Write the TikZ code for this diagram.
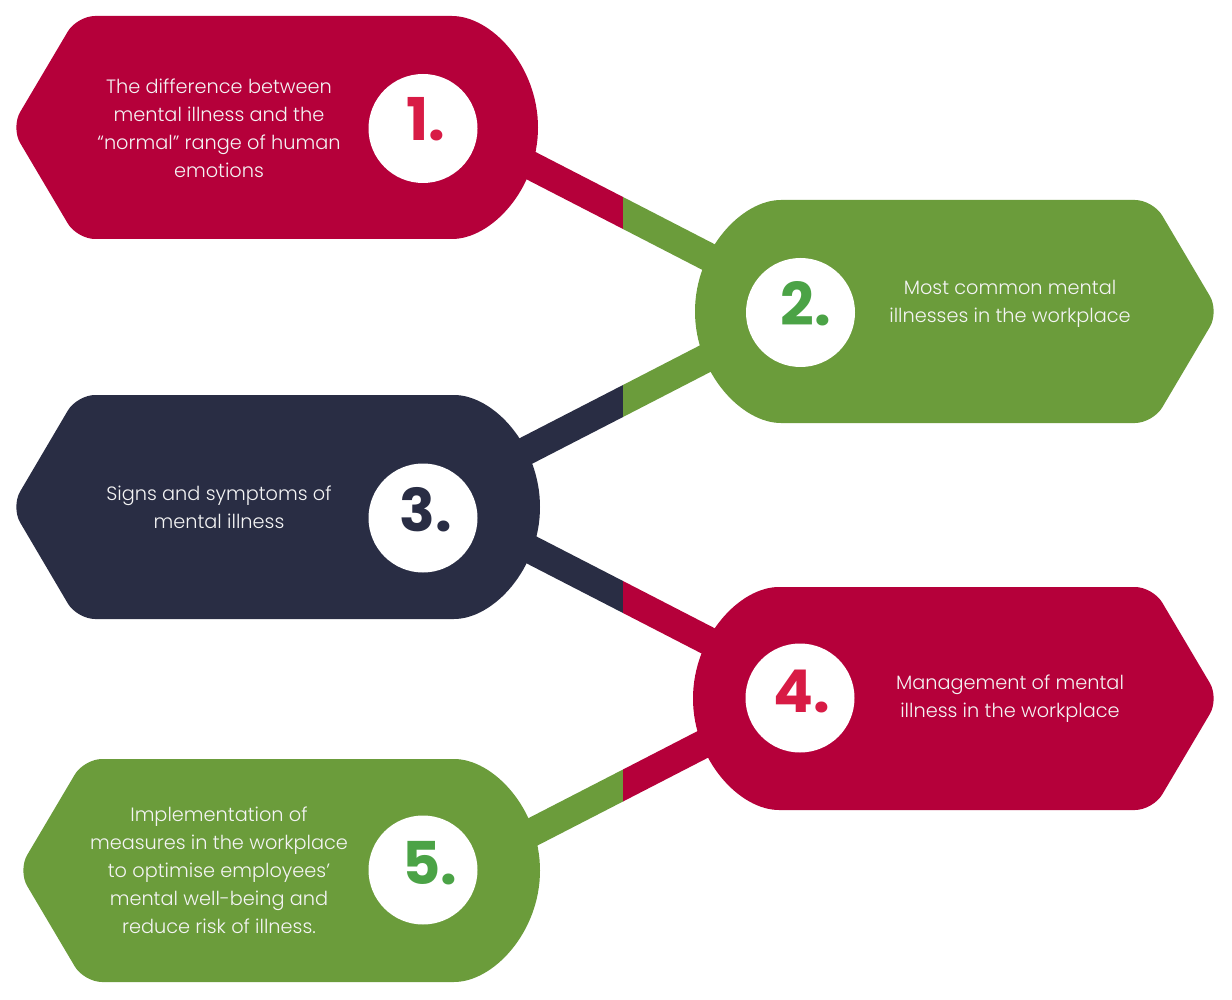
\documentclass[tikz,border=0pt]{standalone}
\usepackage{fontspec}
\setmainfont{Poppins}[UprightFont={* Light}, BoldFont={* Bold}]
\definecolor{cred}{HTML}{B5003A}
\definecolor{cgreen}{HTML}{6B9C3B}
\definecolor{cnavy}{HTML}{292D44}
\definecolor{nred}{HTML}{D81B45}
\definecolor{ngreen}{HTML}{4BA346}
\definecolor{ntext}{HTML}{F4F4F4}
\begin{document}
\begin{tikzpicture}[x=1pt,y=-1pt,
  lbl/.style={text=ntext, align=center, font=\fontsize{19.3}{28}\selectfont, inner sep=0pt},
  num/.style={font=\fontsize{59}{59}\selectfont\bfseries, anchor=base, inner sep=0pt},
  hole/.style={circle, fill=white, minimum size=109pt, inner sep=0pt},
  tagshape/.style={rounded corners=18pt}
]
\useasboundingbox (0,0) rectangle (1232,1000);
\fill[white] (0,0) rectangle (1232,1000);

% connectors (bands)
\fill[cred]   (480,123.4) -- (623,197) -- (623,229) -- (480,155.4) -- cycle;
\fill[cgreen] (623,197) -- (760,267.6) -- (760,299.6) -- (623,229) -- cycle;
\fill[cnavy]  (480,458.6) -- (623,385) -- (623,417) -- (480,490.6) -- cycle;
\fill[cgreen] (623,385) -- (760,314.4) -- (760,346.4) -- (623,417) -- cycle;
\fill[cnavy]  (480,507.4) -- (623,581) -- (623,613) -- (480,539.4) -- cycle;
\fill[cred]   (623,581) -- (760,651.6) -- (760,683.6) -- (623,613) -- cycle;
\fill[cgreen] (480,843.1) -- (623,769.5) -- (623,801.5) -- (480,875.1) -- cycle;
\fill[cred]   (623,769.5) -- (760,698.9) -- (760,730.9) -- (623,801.5) -- cycle;

% shapes
\fill[cred, tagshape] (434,16) arc[start angle=90, end angle=-90, x radius=104pt, y radius=111.5pt]
  -- (77,239) -- (11,127.5) -- (77,16) -- cycle;
\fill[cgreen, tagshape] (799,423) arc[start angle=270, end angle=90, x radius=104pt, y radius=111.5pt]
  -- (1153,200) -- (1219,311.5) -- (1153,423) -- cycle;
\fill[cnavy, tagshape] (436,395) arc[start angle=90, end angle=-90, x radius=104pt, y radius=112pt]
  -- (77,619) -- (11,507) -- (77,395) -- cycle;
\fill[cred, tagshape] (797,810) arc[start angle=270, end angle=90, x radius=104pt, y radius=111.5pt]
  -- (1153,587) -- (1219,698.5) -- (1153,810) -- cycle;
\fill[cgreen, tagshape] (436,759) arc[start angle=90, end angle=-90, x radius=104pt, y radius=111.5pt]
  -- (84,982) -- (18,870.5) -- (84,759) -- cycle;

% white circles
\node[hole] (h1) at (423,128.5) {};
\node[hole] (h2) at (800.5,312.5) {};
\node[hole] (h3) at (423,518) {};
\node[hole] (h4) at (800,698) {};
\node[hole] (h5) at (423,870) {};

% numbers
\node[num, text=nred]   (n1) at (426,141) {1.};
\node[num, text=ngreen] (n2) at (806,326) {2.};
\node[num, text=cnavy]  (n3) at (426,531) {3.};
\node[num, text=nred]   (n4) at (802,712) {4.};
\node[num, text=ngreen] (n5) at (430,884) {5.};

% labels
\node[lbl] (t1) at (219,128) {The difference between\\mental illness and the\\“normal” range of human\\emotions};
\node[lbl] (t2) at (1010,304) {Most common mental\\illnesses in the workplace};
\node[lbl] (t3) at (219,507) {Signs and symptoms of\\mental illness};
\node[lbl] (t4) at (1010,699) {Management of mental\\illness in the workplace};
\node[lbl] (t5) at (219,870) {Implementation of\\measures in the workplace\\to optimise employees’\\mental well-being and\\reduce risk of illness.};
\end{tikzpicture}
\end{document}
